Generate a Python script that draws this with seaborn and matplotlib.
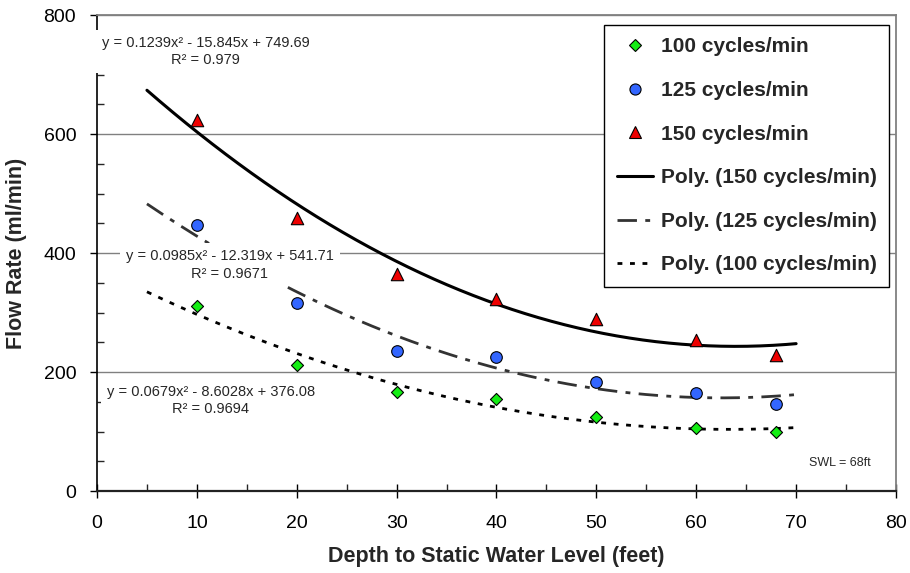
import numpy as np
import matplotlib
matplotlib.use("Agg")
import matplotlib.pyplot as plt
from matplotlib.lines import Line2D
from matplotlib.ticker import MultipleLocator
import seaborn as sns

# depth to static water level (feet)
depth = [10, 20, 30, 40, 50, 60, 68]

# flow rate (ml/min) per pump speed
flow_100 = [311, 212, 167, 155, 124, 106, 99]
flow_125 = [447, 316, 236, 226, 184, 165, 147]
flow_150 = [623, 458, 365, 322, 289, 253, 228]

# excel polynomial trendlines: y = a*x^2 + b*x + c
poly_100 = [0.0679, -8.6028, 376.08]
poly_125 = [0.0985, -12.319, 541.71]
poly_150 = [0.1239, -15.845, 749.69]
r2_100 = 0.9694
r2_125 = 0.9671
r2_150 = 0.979
trend_span = [5, 70]

series_labels = ["100 cycles/min", "125 cycles/min", "150 cycles/min"]
poly_labels = ["Poly. (150 cycles/min)", "Poly. (125 cycles/min)", "Poly. (100 cycles/min)"]

GREEN = "#14ee14"
BLUE = "#3366ff"
RED = "#ee0000"
GRAY = "#808080"

sns.set_style("ticks")
plt.rcParams["font.family"] = ["Liberation Sans", "DejaVu Sans"]
plt.rcParams["lines.scale_dashes"] = False

fig = plt.figure(figsize=(9.1, 5.73), dpi=100)
ax = fig.add_axes([0.1066, 0.1431, 0.8780, 0.8307])

# trendlines
xs = np.linspace(trend_span[0], trend_span[1], 200)
trend_styles = [
    (poly_150, "-", "black", 2.2),
    (poly_125, (0, (14, 6, 3.5, 6)), "#333333", 2.0),
    (poly_100, (0, (3.5, 5.5)), "black", 2.0),
]
for coefs, ls, col, lw in trend_styles:
    sns.lineplot(x=xs, y=np.polyval(coefs, xs), ax=ax, color=col, lw=lw, zorder=3)
    ax.lines[-1].set_linestyle(ls)

# measured points
sns.scatterplot(x=depth, y=flow_100, ax=ax, marker="D", s=38, color=GREEN,
                edgecolor="black", linewidth=0.8, zorder=5)
sns.scatterplot(x=depth, y=flow_125, ax=ax, marker="o", s=70, color=BLUE,
                edgecolor="black", linewidth=0.8, zorder=5)
sns.scatterplot(x=depth, y=flow_150, ax=ax, marker="^", s=80, color=RED,
                edgecolor="black", linewidth=0.8, zorder=5)

# trendline equations
def eq_text(coefs, r2):
    a, b, c = coefs
    return f"y = {a}x\u00b2 - {abs(b)}x + {c}\nR\u00b2 = {r2}"

box = dict(facecolor="white", edgecolor="none", boxstyle="square,pad=0.4")
ax.text(10.9, 739, eq_text(poly_150, r2_150), ha="center", va="center",
        fontsize=10.5, linespacing=1.3, bbox=box, zorder=4)
ax.text(13.3, 380, eq_text(poly_125, r2_125), ha="center", va="center",
        fontsize=10.5, linespacing=1.3, bbox=box, zorder=4)
ax.text(11.4, 152, eq_text(poly_100, r2_100), ha="center", va="center",
        fontsize=10.5, linespacing=1.3, bbox=box, zorder=4)
ax.text(74.4, 47, "SWL = 68ft", ha="center", va="center", fontsize=9)

# axes
ax.set_xlim(0, 80)
ax.set_ylim(0, 800)
ax.xaxis.set_major_locator(MultipleLocator(10))
ax.xaxis.set_minor_locator(MultipleLocator(5))
ax.yaxis.set_major_locator(MultipleLocator(200))
ax.yaxis.set_minor_locator(MultipleLocator(50))
ax.tick_params(axis="x", which="major", direction="inout", length=10, width=1,
               pad=12, labelsize=14, colors="black")
ax.tick_params(axis="x", which="minor", direction="in", length=5, width=1)
ax.tick_params(axis="y", which="major", direction="out", length=5, width=1,
               pad=10, labelsize=14, colors="black")
ax.tick_params(axis="y", which="minor", direction="in", length=5, width=1)
ax.yaxis.grid(True, which="major", color=GRAY, lw=1)
ax.set_axisbelow(True)

for side in ("top", "right"):
    ax.spines[side].set_visible(True)
    ax.spines[side].set_color(GRAY)
    ax.spines[side].set_linewidth(1.3)
ax.spines["left"].set_color("black")
ax.spines["left"].set_linewidth(1.2)
ax.spines["bottom"].set_color("#222222")
ax.spines["bottom"].set_linewidth(1.6)

ax.set_xlabel("Depth to Static Water Level (feet)", fontsize=15.5,
              fontweight="bold", labelpad=10)
ax.set_ylabel("Flow Rate (ml/min)", fontsize=15.5, fontweight="bold", labelpad=12)

# legend
handles = [
    Line2D([], [], ls="none", marker="D", markersize=6, markerfacecolor=GREEN,
           markeredgecolor="black", markeredgewidth=0.8),
    Line2D([], [], ls="none", marker="o", markersize=8, markerfacecolor=BLUE,
           markeredgecolor="black", markeredgewidth=0.8),
    Line2D([], [], ls="none", marker="^", markersize=8, markerfacecolor=RED,
           markeredgecolor="black", markeredgewidth=0.8),
]
for coefs, ls, col, lw in trend_styles:
    handles.append(Line2D([], [], color=col, lw=lw, ls=ls))
leg = ax.legend(handles, series_labels + poly_labels, loc="upper right",
                bbox_to_anchor=(889 / 910, 1 - 25 / 573), bbox_transform=fig.transFigure,
                borderaxespad=0, frameon=True, fancybox=False, framealpha=1,
                edgecolor="black", prop={"weight": "bold", "size": 15},
                handlelength=1.75, handletextpad=0.35, labelspacing=1.18,
                borderpad=0.6)
leg.get_frame().set_linewidth(1.0)
leg.set_zorder(10)

fig.savefig("out.png", dpi=100)
